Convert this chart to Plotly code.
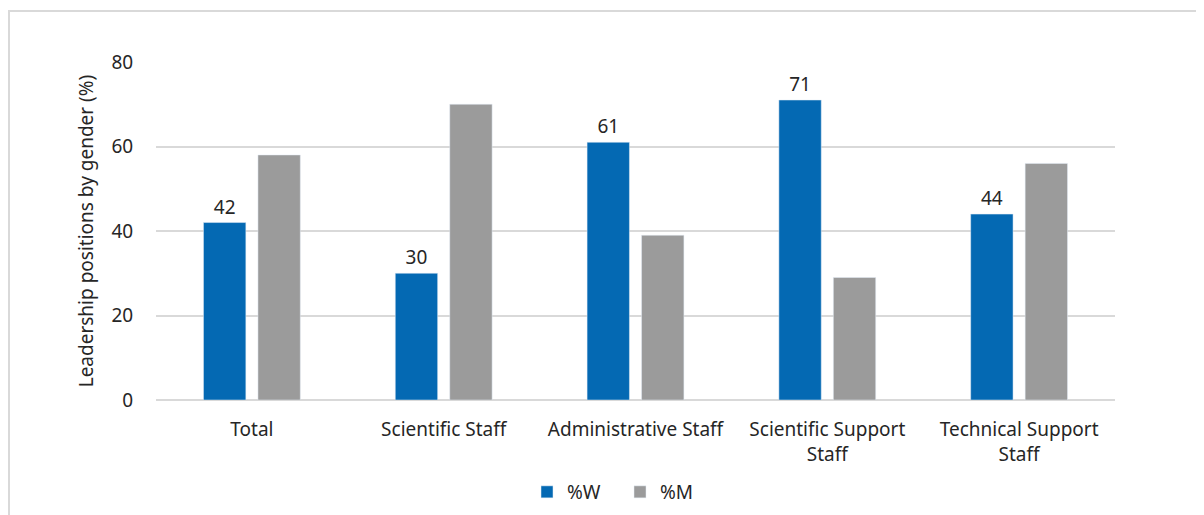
import plotly.graph_objects as go

# Data
categories = ['Total', 'Scientific Staff', 'Administrative Staff',
              'Scientific Support<br>Staff', 'Technical Support<br>Staff']
women_pct = [42, 30, 61, 71, 44]
men_pct = [58, 70, 39, 29, 56]

BLUE = '#0469b3'
GREY = '#9b9b9b'
TEXT = '#262626'
GRID = '#d9d9d9'
FONT = 'Noto Sans, Open Sans, Arial'

# page body has an 8px margin, so the figure is drawn 8px in from the corner
OFF = 8
W, H = 1204 - OFF, 515 - OFF
L, R, T, B = 156 - OFF, 97 - OFF, 62 - OFF, 115
plot_w = W - L - R
plot_h = H - T - B

fig = go.Figure()

fig.add_trace(go.Bar(
    x=categories, y=women_pct, name='%W',
    marker=dict(color=BLUE),
    text=women_pct, textposition='outside',
    textfont=dict(size=19, color=TEXT),
    cliponaxis=False,
))
fig.add_trace(go.Bar(
    x=categories, y=men_pct, name='%M',
    marker=dict(color=GREY),
))

# light outer frame like the original chart box
fig.add_shape(
    type='rect', xref='paper', yref='paper',
    x0=(1 - L) / plot_w, x1=(1202 - OFF - L) / plot_w,
    y0=(T + plot_h - 530) / plot_h, y1=(T + plot_h - 3) / plot_h,
    line=dict(color='#d9d9d9', width=2), layer='below',
)

fig.update_layout(
    width=W, height=H,
    margin=dict(l=L, r=R, t=T, b=B, autoexpand=False),
    paper_bgcolor='white', plot_bgcolor='white',
    font=dict(family=FONT, size=19, color=TEXT),
    barmode='group', bargap=0.432, bargroupgap=0.222,
    showlegend=True,
    legend=dict(
        orientation='h', x=(620 - OFF - L) / plot_w, xanchor='center',
        y=(T + plot_h - (492 - OFF)) / plot_h, yanchor='middle',
        font=dict(size=19, color=TEXT),
        itemwidth=30, entrywidth=48, entrywidthmode='pixels',
        traceorder='normal',
    ),
)
fig.update_xaxes(
    showgrid=False, showline=False, automargin=False,
    ticks='outside', ticklen=12, tickcolor='white',
    tickfont=dict(size=19, color=TEXT),
)
fig.update_yaxes(
    range=[0, 80], dtick=20, automargin=False,
    showgrid=True, gridcolor=GRID, gridwidth=2,
    zeroline=True, zerolinecolor=GRID, zerolinewidth=2,
    showline=False, ticks='outside', ticklen=18, tickcolor='white',
    tickfont=dict(size=19, color=TEXT),
    title=dict(text='Leadership positions by gender (%)',
               font=dict(size=19, color=TEXT), standoff=12),
)

fig.write_html('out.html')
